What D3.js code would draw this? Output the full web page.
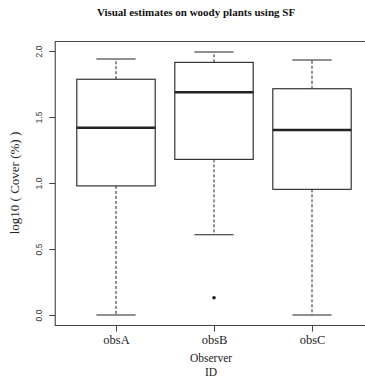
<!DOCTYPE html>
<html>
<head>
<meta charset="utf-8">
<script src="https://cdn.jsdelivr.net/npm/d3@7"></script>
<style>
  html, body { margin: 0; padding: 0; background: #fff; }
  svg { display: block; }
</style>
</head>
<body>
<div id="chart"></div>
<script>
// Box-plot summaries of log10 cover per observer
const observers = ["obsA", "obsB", "obsC"];
const lowerWhisker = [0.0, 0.608, 0.0];
const q1 = [0.978, 1.179, 0.952];
const median = [1.419, 1.687, 1.402];
const q3 = [1.786, 1.914, 1.714];
const upperWhisker = [1.939, 1.992, 1.932];
// outliers as [observer index, value]
const outliers = [[1, 0.131]];
const yTicks = [0, 0.5, 1, 1.5, 2];

const W = 365, H = 379;
const svg = d3.select("#chart").append("svg")
  .attr("width", W).attr("height", H);

const x = d3.scaleLinear().domain([1, 3]).range([116, 312]);
const y = d3.scaleLinear().domain([0, 2]).range([315, 51]);

const ink = "#222";
const serif = "'Liberation Serif', 'DejaVu Serif', serif";
const sans = "'Liberation Sans', Arial, sans-serif";

// frame (right side falls outside the view)
const fx0 = x(0.38), fx1 = x(3.62), fy0 = y(2.072), fy1 = y(-0.08);
svg.append("path")
  .attr("d", `M${fx1},${fy0}H${fx0}V${fy1}H${fx1}`)
  .attr("fill", "none").attr("stroke", "#444").attr("stroke-width", 1.1);

const boxHalf = (x(2) - x(1)) * 0.4;
const capHalf = boxHalf / 2;

const g = svg.append("g");
observers.forEach((name, i) => {
  const cx = x(i + 1);
  const grp = g.append("g").attr("stroke", ink).attr("fill", "none");
  // dashed whiskers
  grp.append("line")
    .attr("x1", cx).attr("x2", cx).attr("y1", y(q3[i])).attr("y2", y(upperWhisker[i]))
    .attr("stroke-dasharray", "3,2").attr("stroke-width", 1);
  grp.append("line")
    .attr("x1", cx).attr("x2", cx).attr("y1", y(q1[i])).attr("y2", y(lowerWhisker[i]))
    .attr("stroke-dasharray", "3,2").attr("stroke-width", 1);
  // staples
  [upperWhisker[i], lowerWhisker[i]].forEach(v => {
    grp.append("line")
      .attr("x1", cx - capHalf).attr("x2", cx + capHalf)
      .attr("y1", y(v)).attr("y2", y(v))
      .attr("stroke-width", 1.1);
  });
  // box
  grp.append("rect")
    .attr("x", cx - boxHalf).attr("width", boxHalf * 2)
    .attr("y", y(q3[i])).attr("height", y(q1[i]) - y(q3[i]))
    .attr("fill", "#fff").attr("stroke-width", 1.1);
  // median
  grp.append("line")
    .attr("x1", cx - boxHalf).attr("x2", cx + boxHalf)
    .attr("y1", y(median[i])).attr("y2", y(median[i]))
    .attr("stroke-width", 2.4);
});

g.selectAll("circle.out").data(outliers).enter().append("circle")
  .attr("class", "out")
  .attr("cx", d => x(d[0] + 1)).attr("cy", d => y(d[1]))
  .attr("r", 1.8).attr("fill", ink);

// y axis with labels turned parallel to the axis
const yAxis = svg.append("g")
  .attr("transform", `translate(${fx0},0)`)
  .call(d3.axisLeft(y).tickValues(yTicks).tickFormat(d3.format(".1f")).tickSize(6).tickSizeOuter(0));
yAxis.select(".domain").remove();
yAxis.selectAll("line").attr("stroke", "#444");
yAxis.selectAll(".tick text")
  .attr("font-family", sans).attr("font-size", 8.5).attr("fill", "#333")
  .attr("x", null).attr("y", null).attr("dy", "0.35em")
  .attr("text-anchor", "middle")
  .attr("transform", "translate(-16,0) rotate(-90)");

// x axis
const xAxis = svg.append("g")
  .attr("transform", `translate(0,${fy1})`)
  .call(d3.axisBottom(x).tickValues([1, 2, 3]).tickFormat(d => observers[d - 1]).tickSize(6).tickSizeOuter(0));
xAxis.select(".domain").remove();
xAxis.selectAll("line").attr("stroke", "#444");
xAxis.selectAll("text")
  .attr("font-family", serif).attr("font-size", 12.5).attr("fill", "#222")
  .attr("y", 10).attr("dy", "0.71em");

// titles
svg.append("text")
  .attr("x", 196).attr("y", 16).attr("text-anchor", "middle")
  .attr("font-family", serif).attr("font-weight", "bold").attr("font-size", 11)
  .attr("fill", "#111")
  .text("Visual estimates on woody plants using SF");

svg.append("text")
  .attr("x", 211).attr("y", 362).attr("text-anchor", "middle")
  .attr("font-family", serif).attr("font-size", 11.5).attr("fill", "#222")
  .text("Observer");
svg.append("text")
  .attr("x", 211).attr("y", 376).attr("text-anchor", "middle")
  .attr("font-family", serif).attr("font-size", 11.5).attr("fill", "#222")
  .text("ID");

svg.append("text")
  .attr("transform", `translate(19,183) rotate(-90)`)
  .attr("text-anchor", "middle")
  .attr("font-family", serif).attr("font-size", 13).attr("fill", "#222")
  .text("log10 ( Cover (%) )");
</script>
</body>
</html>
